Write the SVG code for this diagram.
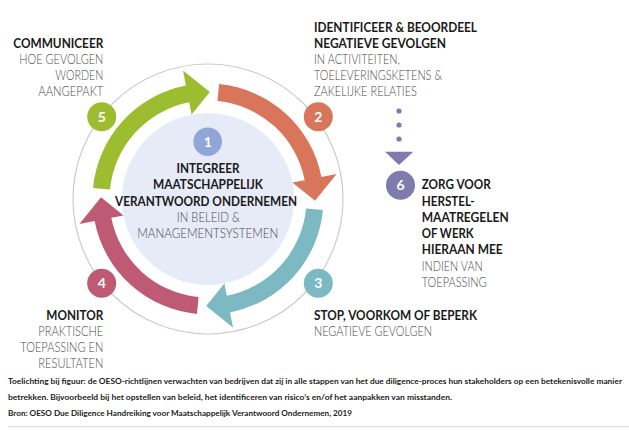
<svg xmlns="http://www.w3.org/2000/svg" width="629" height="431" viewBox="0 0 629 431">
<style>
  .b{font-family:Lato,"Open Sans","Liberation Sans",sans-serif;font-weight:700;font-size:13px;fill:#1a1a1a}
  .r{font-family:Lato,"Open Sans","Liberation Sans",sans-serif;font-weight:300;font-size:13px;fill:#4a4a4a}
  .num{font-family:Lato,"Open Sans","Liberation Sans",sans-serif;font-weight:700;font-size:14px;fill:#ffffff;text-anchor:middle}
  .foot{font-family:Lato,"Liberation Sans",sans-serif;font-weight:700;font-size:7.6px;fill:#1c1c1c}
  .e{text-anchor:end}
  .m{text-anchor:middle}
</style>
<defs>
  <path id="arc" d="M93.03,187.93 A115.5,115.5 0 0 1 185.96,85.62 L183.0,70.41 L209.87,92.0 L191.59,114.58 L189.21,102.31 A98.5,98.5 0 0 0 109.95,189.56 Z"/>
</defs>
<rect width="629" height="431" fill="#ffffff"/>
<g id="ring">
  <circle cx="208" cy="199" r="135" fill="none" stroke="#cccccc" stroke-width="1.2"/>
</g>
<g id="node1">
  <circle cx="208" cy="199" r="86" fill="#e7ebf7"/>
  <circle cx="207.7" cy="141.7" r="14.3" fill="#8fa6d6"/>
  <text class="num" x="207.7" y="146.8">1</text>
  <text class="b m" x="208" y="173.3" textLength="63" lengthAdjust="spacingAndGlyphs">INTEGREER</text>
  <text class="b m" x="208" y="189.3" textLength="110" lengthAdjust="spacingAndGlyphs">MAATSCHAPPELIJK</text>
  <text class="b m" x="206" y="205.7" textLength="182" lengthAdjust="spacingAndGlyphs">VERANTWOORD ONDERNEMEN</text>
  <text class="r m" x="208.3" y="222.3" textLength="63" lengthAdjust="spacingAndGlyphs">IN BELEID &amp;</text>
  <text class="r m" x="207.8" y="238.3" textLength="141" lengthAdjust="spacingAndGlyphs">MANAGEMENTSYSTEMEN</text>
</g>
<g id="connectors">
  <use href="#arc" fill="#9bbd2f"/>
  <use href="#arc" fill="#d9755a" transform="rotate(90 208 199)"/>
  <use href="#arc" fill="#7db9c3" transform="rotate(180 208 199)"/>
  <use href="#arc" fill="#bf5a74" transform="rotate(270 208 199)"/>
  <g fill="#7f7bae">
    <circle cx="399" cy="111" r="2.6"/>
    <circle cx="399" cy="125" r="2.6"/>
    <circle cx="399" cy="139" r="2.6"/>
    <polygon points="385,151.7 413.3,151.7 399,165"/>
  </g>
</g>
<g id="node5">
  <circle cx="101.7" cy="116.7" r="14.5" fill="#9bbd2f"/>
  <text class="num" x="101.7" y="121.8">5</text>
  <text class="b e" x="103.3" y="47.7" textLength="90" lengthAdjust="spacingAndGlyphs">COMMUNICEER</text>
  <text class="r e" x="103.3" y="64" textLength="84" lengthAdjust="spacingAndGlyphs">HOE GEVOLGEN</text>
  <text class="r e" x="103.3" y="80" textLength="48" lengthAdjust="spacingAndGlyphs">WORDEN</text>
  <text class="r e" x="103.3" y="96" textLength="65" lengthAdjust="spacingAndGlyphs">AANGEPAKT</text>
</g>
<g id="node2">
  <circle cx="318.3" cy="116.7" r="14.5" fill="#d9755a"/>
  <text class="num" x="318.3" y="121.8">2</text>
  <text class="b" x="314" y="31.7" textLength="163" lengthAdjust="spacingAndGlyphs">IDENTIFICEER &amp; BEOORDEEL</text>
  <text class="b" x="314" y="47.7" textLength="132" lengthAdjust="spacingAndGlyphs">NEGATIEVE GEVOLGEN</text>
  <text class="r" x="314" y="64" textLength="86" lengthAdjust="spacingAndGlyphs">IN ACTIVITEITEN,</text>
  <text class="r" x="314" y="80" textLength="128" lengthAdjust="spacingAndGlyphs">TOELEVERINGSKETENS &amp;</text>
  <text class="r" x="314" y="96" textLength="103" lengthAdjust="spacingAndGlyphs">ZAKELIJKE RELATIES</text>
</g>
<g id="node6">
  <circle cx="400.5" cy="185.2" r="14.5" fill="#7f7bae"/>
  <text class="num" x="400.5" y="190.3">6</text>
  <text class="b" x="421.7" y="189.3" textLength="69" lengthAdjust="spacingAndGlyphs">ZORG VOOR</text>
  <text class="b" x="421.7" y="205.7" textLength="53" lengthAdjust="spacingAndGlyphs">HERSTEL-</text>
  <text class="b" x="421.7" y="221.7" textLength="87" lengthAdjust="spacingAndGlyphs">MAATREGELEN</text>
  <text class="b" x="421.7" y="237.7" textLength="52" lengthAdjust="spacingAndGlyphs">OF WERK</text>
  <text class="b" x="421.7" y="254" textLength="81" lengthAdjust="spacingAndGlyphs">HIERAAN MEE</text>
  <text class="r" x="421.7" y="271" textLength="61" lengthAdjust="spacingAndGlyphs">INDIEN VAN</text>
  <text class="r" x="421.7" y="286.7" textLength="65" lengthAdjust="spacingAndGlyphs">TOEPASSING</text>
</g>
<g id="node3">
  <circle cx="318.3" cy="283.3" r="14.5" fill="#7db9c3"/>
  <text class="num" x="318.3" y="288.4">3</text>
  <text class="b" x="314" y="320" textLength="163" lengthAdjust="spacingAndGlyphs">STOP, VOORKOM OF BEPERK</text>
  <text class="r" x="314" y="336" textLength="118" lengthAdjust="spacingAndGlyphs">NEGATIEVE GEVOLGEN</text>
</g>
<g id="node4">
  <circle cx="101.7" cy="283.3" r="14.5" fill="#bf5a74"/>
  <text class="num" x="101.7" y="288.4">4</text>
  <text class="b e" x="103.3" y="320" textLength="57" lengthAdjust="spacingAndGlyphs">MONITOR</text>
  <text class="r e" x="103.3" y="336" textLength="65" lengthAdjust="spacingAndGlyphs">PRAKTISCHE</text>
  <text class="r e" x="103.3" y="352.3" textLength="83" lengthAdjust="spacingAndGlyphs">TOEPASSING EN</text>
  <text class="r e" x="103.3" y="368.3" textLength="65" lengthAdjust="spacingAndGlyphs">RESULTATEN</text>
</g>
<g id="footer">
  <text class="foot" x="8" y="384" textLength="614" lengthAdjust="spacingAndGlyphs">Toelichting bij figuur: de OESO-richtlijnen verwachten van bedrijven dat zij in alle stappen van het due diligence-proces hun stakeholders op een betekenisvolle manier</text>
  <text class="foot" x="8" y="400" textLength="444" lengthAdjust="spacingAndGlyphs">betrekken. Bijvoorbeeld bij het opstellen van beleid, het identificeren van risico’s en/of het aanpakken van misstanden.</text>
  <text class="foot" x="8" y="416" textLength="344" lengthAdjust="spacingAndGlyphs">Bron: OESO Due Diligence Handreiking voor Maatschappelijk Verantwoord Ondernemen, 2019</text>
  <line x1="8" y1="426.5" x2="629" y2="426.5" stroke="#e3e3e3" stroke-width="1.5"/>
</g>
</svg>
